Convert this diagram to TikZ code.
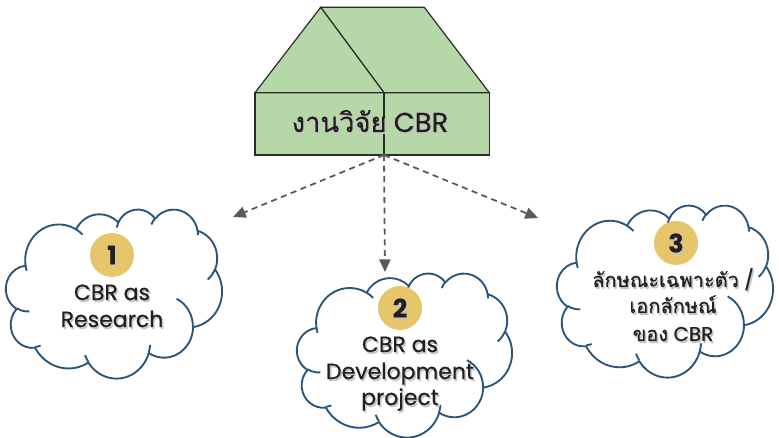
\documentclass[tikz,border=0pt]{standalone}
\usepackage{fontspec}
\setmainfont{Poppins}[FakeBold=0.5]
\newfontfamily\thai[Script=Thai,FakeBold=0.5]{Loma}
\usetikzlibrary{arrows.meta}
\definecolor{housegreen}{HTML}{B6D7A8}
\definecolor{houseline}{HTML}{2B2B2B}
\definecolor{cloudblue}{HTML}{2A5478}
\definecolor{gold}{HTML}{E6C66A}
\definecolor{textdark}{HTML}{231F20}
\definecolor{arrgray}{HTML}{5A5A5A}
\definecolor{shadowc}{HTML}{C4C4C4}
\tikzset{
  ooarc/.code args={#1/#2/#3/#4}{%
    \pgfmathsetmacro\ooA{atan2(#1*sin(#3), #2*cos(#3))}%
    \pgfmathsetmacro\ooB{atan2(#1*sin(#3+#4), #2*cos(#3+#4))}%
    \pgfmathsetmacro\ooD{\ooB-\ooA}%
    \pgfmathsetmacro\ooD{\ooD-360*round((\ooD-#4)/360)}%
    \edef\ootmp{\noexpand\tikzset{x radius=#1, y radius=#2, start angle=\ooA, delta angle=\ooD}}\ootmp},
  cloudline/.style={draw=cloudblue, line width=1.4pt, line join=round},
  lbl/.style={font=\fontsize{16.5}{19}\selectfont, text=textdark, anchor=base, inner sep=0pt},
  lblsm/.style={lbl, font=\fontsize{15}{18}\selectfont},
  numtxt/.style={font=\fontsize{19}{22}\selectfont\bfseries, text=textdark, inner sep=0pt},
  numcirc/.style={circle, fill=gold, minimum size=33pt, inner sep=0pt},
  darr/.style={draw=arrgray, line width=1.35pt, dash pattern=on 4.5pt off 3.4pt, -{Triangle[length=9.5pt,width=8.5pt]}},
  housepart/.style={fill=housegreen, draw=houseline, line width=0.9pt, line join=miter},
}
\newcommand\shtext[4]{\node[#3, text=shadowc, xshift=1.1pt, yshift=-1.5pt] (#1s) at (#2) {#4};\node[#3] (#1) at (#2) {#4};}
\newcommand\cloudshape[4]{%
\begin{scope}[shift={(#1,#2)}, xscale=#3/432, yscale=#4/432]
\filldraw[cloudline, fill=white] (39.00,143.70)
  arc[ooarc=67.53/91.90/-190.4875/123.7805]
  arc[ooarc=53.33/72.67/-144.1024/89.9452]
  arc[ooarc=43.65/59.45/-145.8079/99.7230]
  arc[ooarc=48.57/65.95/-130.9861/117.2417]
  arc[ooarc=53.33/72.73/-78.7089/109.0269]
  arc[ooarc=67.75/92.20/-46.2673/130.2690]
  arc[ooarc=57.85/78.67/0.6250/114.0333]
  arc[ooarc=67.52/92.15/22.4516/115.1726]
  arc[ooarc=77.20/105.43/66.2426/75.7110]
  arc[ooarc=43.60/59.18/-274.9421/146.7356]
  arc[ooarc=43.45/59.45/-246.8285/152.5189] -- cycle;
\draw[cloudline]
  (46.93,261.77) arc[ooarc=43.45/59.45/86.7420/26.4295]
  (69.28,348.99) arc[ooarc=43.60/59.18/73.6105/11.4475]
  (164.78,390.90) arc[ooarc=67.52/92.15/137.6242/14.0811]
  (288.27,347.51) arc[ooarc=67.52/92.15/6.4533/15.9984]
  (341.29,229.54) arc[ooarc=57.85/78.67/-70.2924/70.9174]
  (417.98,153.54) arc[ooarc=53.33/72.73/30.3180/27.7515]
  (383.24,54.26) arc[ooarc=48.57/65.95/-13.7443/14.8589]
  (290.78,39.52) arc[ooarc=48.57/65.95/-149.1815/18.1954]
  (221.41,47.20) arc[ooarc=43.65/59.45/-163.4943/17.6864]
  (140.00,51.92) arc[ooarc=67.53/91.90/-66.7070/12.3194]
  (41.27,157.89) arc[ooarc=67.53/91.90/157.6544/11.8582];
\end{scope}}
\begin{document}
\begin{tikzpicture}[x=0.75pt,y=-0.75pt]
\useasboundingbox (0,0) rectangle (779,438);
% house
\draw[housepart] (255,92.7) rectangle (489.3,155);
\draw[housepart] (320.7,7.3) -- (424.3,7.3) -- (489.3,92.7) -- (384,92.7) -- cycle;
\draw[housepart] (255,92.7) -- (320.7,7.3) -- (384,92.7) -- cycle;
\draw[houseline, line width=0.9pt] (384,92.7) -- (384,155);
\draw[line width=2.1pt, draw=black!85] (384,109) -- (384,139);
\shtext{hl}{370,132}{lbl, font=\fontsize{20.5}{23}\selectfont}{{\thai งานวิจัย} CBR}
% arrows
\coordinate (hb) at (384,155);
\coordinate (a1) at (233,217);
\coordinate (a2) at (385,272);
\coordinate (a3) at (538,218);
\draw[darr] (hb) -- (a1);
\draw[darr] (hb) -- (a2);
\draw[darr] (hb) -- (a3);
% clouds
\cloudshape{6}{209}{216}{169}
\cloudshape{297}{273}{215}{164}
\cloudshape{557}{205}{216}{172}
% numbers
\node[numcirc] (c1) at (112,255) {};
\node[numcirc] (c2) at (400,308) {};
\node[numcirc] (c3) at (676,243) {};
\shtext{d1}{c1}{numtxt}{1}
\shtext{d2}{c2}{numtxt}{2}
\shtext{d3}{c3}{numtxt}{3}
% texts
\shtext{t1a}{112,300}{lbl}{CBR as}
\shtext{t1b}{112,327}{lbl}{Research}
\shtext{t2a}{400,352}{lbl}{CBR as}
\shtext{t2b}{400,379}{lbl}{Development}
\shtext{t2c}{400,405}{lbl}{project}
\shtext{t3a}{673,287}{lblsm}{{\thai ลักษณะเฉพาะตัว} /}
\shtext{t3b}{673,313}{lblsm}{\thai เอกลักษณ์}
\shtext{t3c}{673,341}{lblsm}{{\thai ของ} CBR}
\end{tikzpicture}
\end{document}
